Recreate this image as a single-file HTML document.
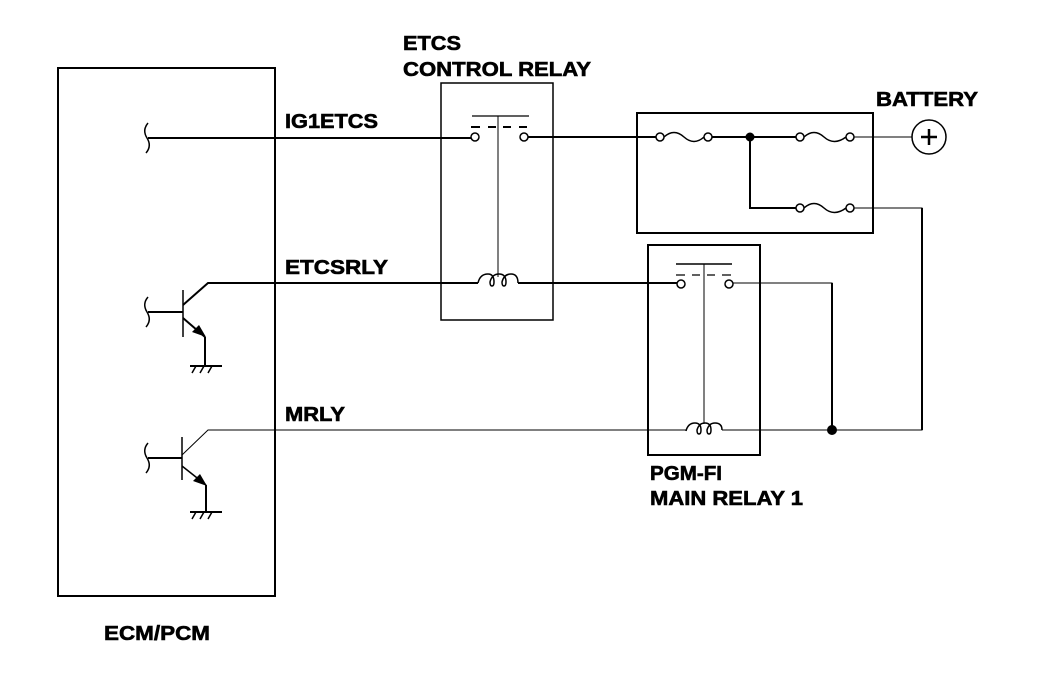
<!DOCTYPE html>
<html><head><meta charset="utf-8"><style>
html,body{margin:0;padding:0;background:#fff;}
svg{display:block;}
text{font-family:"Liberation Sans",Arial,sans-serif;font-weight:bold;font-size:20px;fill:#000;stroke:#000;stroke-width:0.6;}
</style></head><body>
<svg width="1056" height="678" viewBox="0 0 1056 678" xmlns="http://www.w3.org/2000/svg">
<g fill="none" stroke="#000" stroke-width="2">
<rect x="58" y="68" width="217" height="528"/>
<rect x="441" y="83" width="112" height="237" stroke-width="1.5"/>
<rect x="637" y="113" width="236" height="120"/>
<rect x="648" y="245" width="112" height="210"/>
<path d="M148 123 Q142 130 147 138 Q152 146 146 153" stroke-width="1.5"/>
<line x1="148" y1="138" x2="471" y2="138"/>
<circle cx="475" cy="137" r="4" stroke-width="1.5"/>
<circle cx="524" cy="137" r="4" stroke-width="1.5"/>
<line x1="472" y1="116" x2="529" y2="116" stroke-width="1.2"/>
<line x1="498" y1="116" x2="498" y2="277" stroke-width="1"/>
<path d="M471 127h9M488 127h8M503 127h8M519 127h8" stroke-width="2"/>
<line x1="528" y1="137" x2="656" y2="137"/>
<circle cx="660" cy="137" r="4" stroke-width="1.5"/>
<path d="M664 137 Q674 128 684 137 Q694 146 704 137" stroke-width="1.5"/>
<circle cx="708" cy="137" r="4" stroke-width="1.5"/>
<line x1="712" y1="137" x2="796" y2="137"/>
<circle cx="750" cy="137" r="3.5" fill="#000"/>
<circle cx="800" cy="137" r="4" stroke-width="1.5"/>
<path d="M804 137 Q814 128 824 137 Q834 146 846 137" stroke-width="1.5"/>
<circle cx="850" cy="137" r="4" stroke-width="1.5"/>
<line x1="854" y1="137" x2="912" y2="137" stroke-width="1"/>
<circle cx="929" cy="137" r="17" stroke-width="1.5"/>
<path d="M921 137h16M929 129v16" stroke-width="2.5"/>
<polyline points="750,137 750,208 796,208"/>
<circle cx="800" cy="208" r="4" stroke-width="1.5"/>
<path d="M804 208 Q814 199 824 208 Q834 217 846 208" stroke-width="1.5"/>
<circle cx="850" cy="208" r="4" stroke-width="1.5"/>
<polyline points="854,208 922,208 922,430 722,430" stroke-width="1"/>
<line x1="922" y1="208" x2="922" y2="430" stroke-width="2"/>
<path d="M148 297 Q142 304 147 312 Q152 320 146 327" stroke-width="1.5"/>
<line x1="148" y1="312" x2="183" y2="312"/>
<line x1="183" y1="290" x2="183" y2="337" stroke-width="1.5"/>
<polyline points="183,305 208,283 478,283"/>
<line x1="183" y1="318" x2="205" y2="337"/>
<line x1="205" y1="337" x2="205" y2="366"/>
<line x1="190" y1="366" x2="222" y2="366"/>
<path d="M196 366l-4 7M204 366l-4 7M212 366l-4 7" stroke-width="1.5"/>
<path d="M478 283 Q480 274 488 274 Q494 274 494 282 Q494 286 492 286 Q490 286 490 282 Q492 274 499 274 Q506 274 506 282 Q506 286 504 286 Q502 286 502 282 Q504 274 511 274 Q518 274 518 283" stroke-width="1.5"/>
<line x1="518" y1="283" x2="677" y2="283"/>
<line x1="676" y1="264" x2="732" y2="264" stroke-width="1.5"/>
<line x1="704" y1="264" x2="704" y2="424" stroke-width="1"/>
<path d="M676 275h9M692 275h8M707 275h8M722 275h9" stroke-width="1.2"/>
<circle cx="681" cy="284" r="4" stroke-width="1.5"/>
<circle cx="729" cy="284" r="4" stroke-width="1.5"/>
<polyline points="733,283 832,283 832,430" stroke-width="1"/>
<line x1="832" y1="283" x2="832" y2="430" stroke-width="2"/>
<circle cx="832" cy="430" r="4" fill="#000"/>
<path d="M148 443 Q142 450 147 458 Q152 466 146 473" stroke-width="1.5"/>
<line x1="148" y1="458" x2="182" y2="458"/>
<line x1="182" y1="437" x2="182" y2="480" stroke-width="1.5"/>
<polyline points="182,455 208,430 686,430" stroke-width="1"/>
<line x1="182" y1="466" x2="206" y2="485" stroke-width="1.5"/>
<line x1="206" y1="485" x2="206" y2="512"/>
<line x1="190" y1="512" x2="222" y2="512"/>
<path d="M196 512l-4 7M204 512l-4 7M212 512l-4 7" stroke-width="1.5"/>
<path d="M686 431 Q688 423 695 423 Q701 423 701 430 Q701 434 699 434 Q697 434 697 430 Q699 423 705 423 Q711 423 711 430 Q711 434 709 434 Q707 434 707 430 Q709 423 715 423 Q722 423 722 430" stroke-width="1.5"/>
</g>
<polygon points="206,337 192,332 199,325" fill="#000"/>
<polygon points="207,486 193,481 200,474" fill="#000"/>
<text x="403" y="50" textLength="58" lengthAdjust="spacingAndGlyphs">ETCS</text>
<text x="403" y="76" textLength="188" lengthAdjust="spacingAndGlyphs">CONTROL RELAY</text>
<text x="876" y="106" textLength="102" lengthAdjust="spacingAndGlyphs">BATTERY</text>
<text x="285" y="128" textLength="93" lengthAdjust="spacingAndGlyphs">IG1ETCS</text>
<text x="285" y="274" textLength="103" lengthAdjust="spacingAndGlyphs">ETCSRLY</text>
<text x="285" y="421" textLength="60" lengthAdjust="spacingAndGlyphs">MRLY</text>
<text x="650" y="480" textLength="72" lengthAdjust="spacingAndGlyphs">PGM-FI</text>
<text x="650" y="505" textLength="153" lengthAdjust="spacingAndGlyphs">MAIN RELAY 1</text>
<text x="104" y="640" textLength="106" lengthAdjust="spacingAndGlyphs">ECM/PCM</text>
</svg>
</body></html>
